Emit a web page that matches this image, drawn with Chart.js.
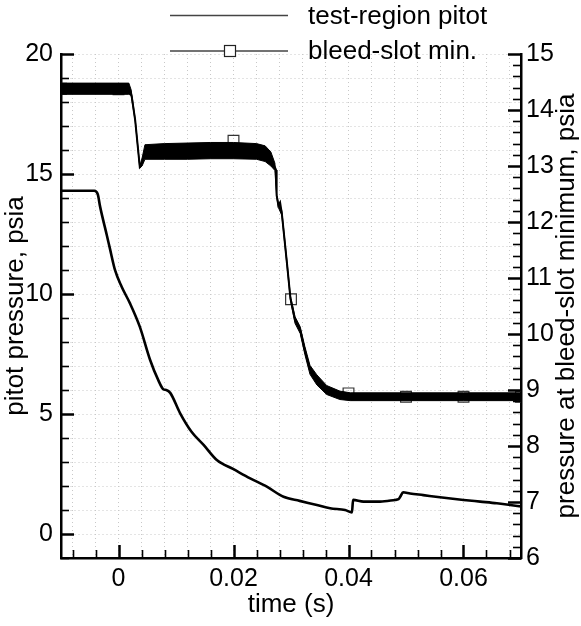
<!DOCTYPE html>
<html><head><meta charset="utf-8">
<script src="https://cdn.jsdelivr.net/npm/chart.js@4.4.1/dist/chart.umd.min.js"></script>
<style>html,body{margin:0;padding:0;background:#fff;} #c{display:block;}</style>
</head><body>
<canvas id="c" width="581" height="626"></canvas>
<script>
// ---- data ----
const pitotTime  = [-0.01, -0.007, -0.0042, -0.0036, -0.0032, -0.002, -0.0015, -0.0006, 0.00055, 0.002, 0.0037, 0.0055, 0.0069, 0.0078, 0.0083, 0.009, 0.0107, 0.0127, 0.0148, 0.0171, 0.02, 0.0229, 0.0258, 0.0287, 0.0315, 0.0345, 0.0368, 0.0394, 0.0406, 0.0408, 0.0426, 0.0455, 0.0481, 0.0487, 0.049, 0.0495, 0.0507, 0.053, 0.0559, 0.06, 0.0629, 0.0658, 0.0681, 0.07];
const pitotValue = [14.3, 14.3, 14.3, 14.15, 13.64, 12.42, 11.9, 10.99, 10.3, 9.61, 8.64, 7.25, 6.42, 6.03, 6.0, 5.88, 5.04, 4.26, 3.71, 3.08, 2.7, 2.32, 1.97, 1.55, 1.38, 1.21, 1.07, 1.0, 0.9, 1.42, 1.35, 1.35, 1.42, 1.45, 1.55, 1.74, 1.69, 1.62, 1.53, 1.42, 1.35, 1.28, 1.21, 1.15];

const bleedTime  = [-0.01, -0.005, 0, 0.0015, 0.002, 0.0023, 0.0029, 0.0037, 0.0041, 0.0046, 0.01, 0.015, 0.02, 0.025, 0.0258, 0.0265, 0.0269, 0.0274, 0.0275, 0.0278, 0.0281, 0.0284, 0.0287, 0.0293, 0.0299, 0.0307, 0.0316, 0.0324, 0.0333, 0.0345, 0.0362, 0.0385, 0.0403, 0.042, 0.05, 0.06, 0.07];
const bleedValue = [14.38, 14.38, 14.38, 14.38, 14.35, 14.24, 13.82, 12.99, 13.05, 13.26, 13.26, 13.27, 13.28, 13.26, 13.2, 13.12, 13.05, 12.93, 12.48, 12.3, 12.35, 12.16, 11.86, 11.26, 10.64, 10.25, 10.07, 9.71, 9.36, 9.18, 9.0, 8.91, 8.88, 8.87, 8.87, 8.87, 8.87];

// noise envelope of the bleed-slot signal
const bleedBandTime = [-0.01, 0.0018, 0.0022, 0.0029, 0.0037, 0.0041, 0.0046, 0.008, 0.012, 0.016, 0.02, 0.024, 0.0255, 0.0265, 0.0272, 0.0275, 0.0278, 0.0284, 0.0293, 0.0299, 0.0307, 0.0316, 0.0324, 0.0333, 0.0345, 0.0362, 0.0385, 0.0403, 0.05, 0.06, 0.07];
const bleedBandHigh = [14.48, 14.48, 14.36, 13.84, 13.0, 13.14, 13.38, 13.40, 13.41, 13.42, 13.42, 13.40, 13.36, 13.25, 13.05, 12.5, 12.34, 12.2, 11.3, 10.68, 10.31, 10.13, 9.78, 9.44, 9.27, 9.08, 8.98, 8.95, 8.95, 8.95, 8.95];
const bleedBandLow  = [14.28, 14.28, 14.26, 13.80, 12.96, 13.0, 13.12, 13.12, 13.12, 13.13, 13.13, 13.12, 13.08, 13.0, 12.92, 12.46, 12.26, 12.12, 11.22, 10.6, 10.19, 10.01, 9.64, 9.28, 9.09, 8.92, 8.83, 8.81, 8.81, 8.81, 8.81];

const markerTime  = [-0.01, 0, 0.01, 0.02, 0.03, 0.04, 0.05, 0.06, 0.07];
const markerValue = [14.38, 14.37, 13.26, 13.45, 10.62, 8.94, 8.88, 8.88, 8.88];

const xTickValues = [-0.008, -0.004, 0, 0.004, 0.008, 0.012, 0.016, 0.02, 0.024, 0.028, 0.032, 0.036, 0.04, 0.044, 0.048, 0.052, 0.056, 0.06, 0.064, 0.068];
const xTickLabels = [0, 0.02, 0.04, 0.06];
const leftTickLabels = [0, 5, 10, 15, 20];
const rightTickLabels = [6, 7, 8, 9, 10, 11, 12, 13, 14, 15];

const seriesNames = ['test-region pitot', 'bleed-slot min.'];
const xTitle = 'time (s)';
const leftTitle = 'pitot pressure, psia';
const rightTitle = 'pressure at bleed-slot minimum, psia';

// ---- chart ----
const FONT = '"Liberation Sans", Arial, Helvetica, sans-serif';
Chart.defaults.font.family = FONT;
Chart.defaults.color = '#000';

const pts = (xs, ys) => xs.map((x, i) => ({x: x, y: ys[i]}));

const framePlugin = {
  id: 'frame',
  afterDraw(chart) {
    const ctx = chart.ctx, a = chart.chartArea, s = chart.scales;
    const isMajor = t => t.label !== '' && t.label !== undefined && t.label !== null;
    ctx.save();
    ctx.strokeStyle = '#000';
    ctx.lineCap = 'butt';
    s.x.ticks.forEach(t => {
      const p = Math.round(s.x.getPixelForValue(t.value)) + 0.5;
      const M = isMajor(t);
      ctx.lineWidth = M ? 2.5 : 1.6;
      ctx.beginPath(); ctx.moveTo(p, a.bottom); ctx.lineTo(p, a.bottom - (M ? 13 : 8)); ctx.stroke();
    });
    s.y.ticks.forEach(t => {
      const p = Math.round(s.y.getPixelForValue(t.value)) + 0.5;
      const M = isMajor(t);
      ctx.lineWidth = M ? 2.5 : 1.6;
      ctx.beginPath(); ctx.moveTo(a.left, p); ctx.lineTo(a.left + (M ? 13 : 8), p); ctx.stroke();
    });
    s.y1.ticks.forEach(t => {
      const p = Math.round(s.y1.getPixelForValue(t.value)) + 0.5;
      const M = isMajor(t);
      ctx.lineWidth = M ? 2.5 : 1.6;
      ctx.beginPath(); ctx.moveTo(a.right, p); ctx.lineTo(a.right - (M ? 13 : 8), p); ctx.stroke();
    });
    // right axis title (reads bottom to top)
    ctx.fillStyle = '#000';
    ctx.font = '26px ' + FONT;
    ctx.save();
    ctx.translate(567, (a.top + a.bottom) / 2);
    ctx.rotate(-Math.PI / 2);
    ctx.textAlign = 'center';
    ctx.textBaseline = 'middle';
    ctx.fillText(rightTitle, 0, 0);
    ctx.restore();
    // legend
    const rows = [{y: 15.5, name: seriesNames[0], marker: false}, {y: 51, name: seriesNames[1], marker: true}];
    rows.forEach(r => {
      ctx.strokeStyle = '#444';
      ctx.lineWidth = 1.4;
      ctx.beginPath(); ctx.moveTo(170, r.y); ctx.lineTo(288, r.y); ctx.stroke();
      if (r.marker) {
        ctx.fillStyle = '#fff';
        ctx.fillRect(224.5, r.y - 5.5, 11, 11);
        ctx.strokeStyle = '#222';
        ctx.lineWidth = 1.2;
        ctx.strokeRect(224.5, r.y - 5.5, 11, 11);
      }
      ctx.fillStyle = '#000';
      ctx.textAlign = 'left';
      ctx.textBaseline = 'alphabetic';
      ctx.fillText(r.name, 308, r.y + 8);
    });
    ctx.restore();
  }
};

const gridColor = '#c8c8c8';

new Chart(document.getElementById('c'), {
  type: 'line',
  data: {
    datasets: [
      { label: seriesNames[0], data: pts(pitotTime, pitotValue), yAxisID: 'y',
        borderColor: '#000', borderWidth: 2.6, pointRadius: 0, cubicInterpolationMode: 'monotone', fill: false, order: 1 },
      { label: seriesNames[1], data: pts(bleedTime, bleedValue), yAxisID: 'y1',
        borderColor: '#000', borderWidth: 2, pointRadius: 0, tension: 0, fill: false, order: 2 },
      { label: 'band high', data: pts(bleedBandTime, bleedBandHigh), yAxisID: 'y1',
        borderColor: '#000', borderWidth: 1, pointRadius: 0, tension: 0, fill: '+1', backgroundColor: '#000', order: 3 },
      { label: 'band low', data: pts(bleedBandTime, bleedBandLow), yAxisID: 'y1',
        borderColor: '#000', borderWidth: 1, pointRadius: 0, tension: 0, fill: false, order: 4 },
      { label: 'markers', data: pts(markerTime, markerValue), yAxisID: 'y1', showLine: false,
        pointStyle: 'rect', pointRadius: 7.6, pointBorderWidth: 1.2, pointBorderColor: '#333',
        pointBackgroundColor: 'rgba(0,0,0,0)', borderColor: '#333', backgroundColor: 'rgba(0,0,0,0)', order: 5 }
    ]
  },
  options: {
    responsive: false,
    devicePixelRatio: 1,
    animation: false,
    layout: { padding: { top: 54, left: 0, right: 0, bottom: 0 } },
    plugins: { legend: { display: false }, tooltip: { enabled: false } },
    scales: {
      x: {
        type: 'linear', min: -0.01, max: 0.07,
        afterBuildTicks: sc => { sc.ticks = xTickValues.map(v => ({value: v})); },
        afterFit: sc => { sc.height = 68; },
        ticks: { autoSkip: false, maxRotation: 0, padding: 6, font: { size: 25 }, color: '#000',
          callback: v => xTickLabels.includes(v) ? String(v) : '' },
        grid: { color: gridColor, lineWidth: 1, drawTicks: false },
        border: { display: true, color: '#000', width: 2.5, dash: [1, 3] },
        title: { display: true, text: xTitle, font: { size: 26 }, color: '#000', padding: { top: 0, bottom: 6 } }
      },
      y: {
        type: 'linear', position: 'left', min: -1, max: 20,
        afterFit: sc => { sc.width = 61; },
        ticks: { stepSize: 1, autoSkip: false, padding: 8, font: { size: 25 }, color: '#000',
          callback: v => leftTickLabels.includes(v) ? String(v) : '' },
        grid: { color: gridColor, lineWidth: 1, drawTicks: false },
        border: { display: true, color: '#000', width: 2.5, dash: [1, 3] },
        title: { display: true, text: leftTitle, font: { size: 26 }, color: '#000', padding: { top: 0, bottom: 0 } }
      },
      y1: {
        type: 'linear', position: 'right', min: 6, max: 15,
        afterFit: sc => { sc.width = 60; },
        ticks: { stepSize: 0.2, autoSkip: false, padding: 5, font: { size: 25 }, color: '#000',
          callback: v => { const r = Math.round(v * 1000) / 1000; return rightTickLabels.includes(r) ? String(r) : ''; } },
        grid: { display: false, drawTicks: false },
        border: { display: true, color: '#000', width: 2.5 }
      }
    }
  },
  plugins: [framePlugin]
});
</script>
</body></html>
